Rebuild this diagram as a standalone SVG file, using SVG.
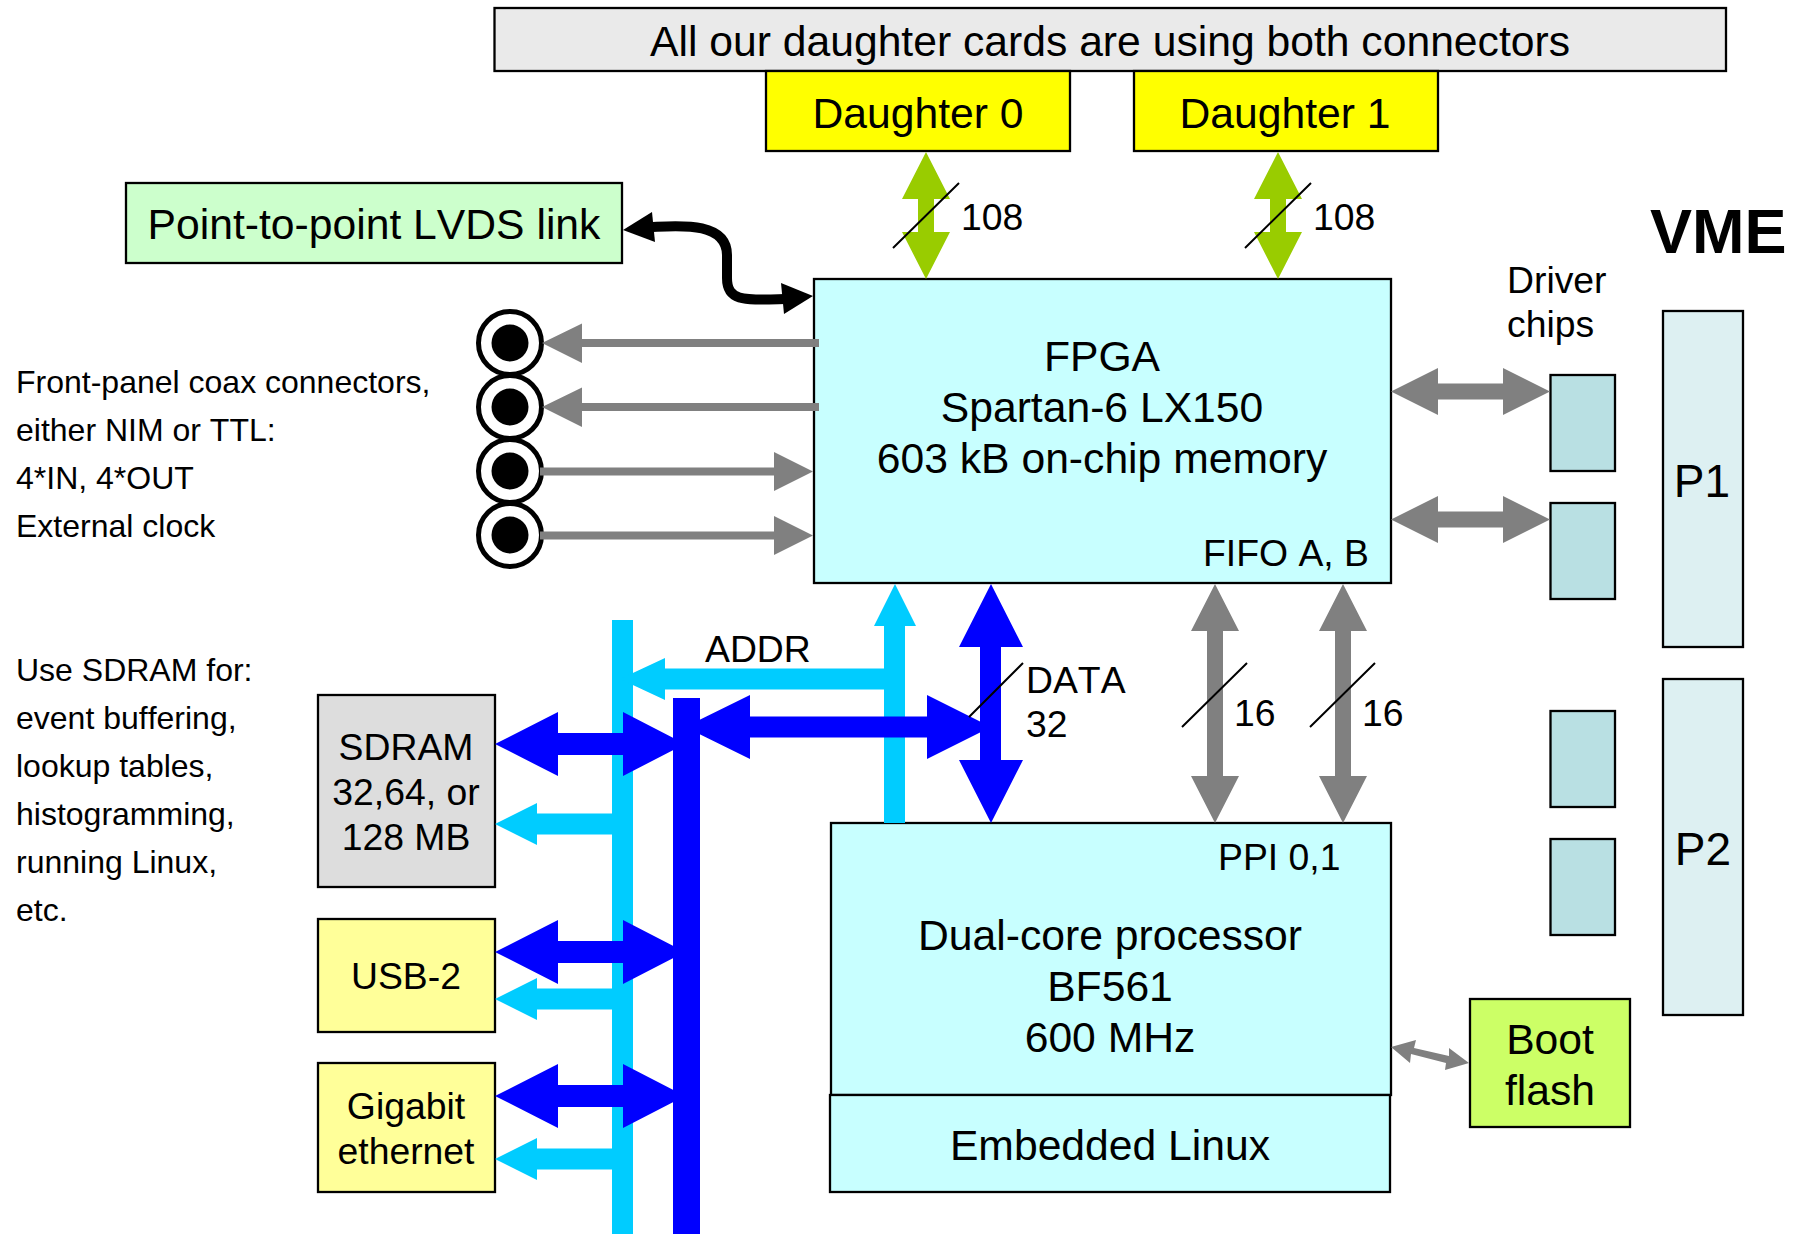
<svg xmlns="http://www.w3.org/2000/svg" width="1796" height="1234" viewBox="0 0 1796 1234">
<style>
text{font-family:"Liberation Sans",Arial,sans-serif;fill:#000;font-kerning:none}
.s32{font-size:32px}.s36{font-size:37.330px}.s42{font-size:42.670px}.s46{font-size:46px}
.m{text-anchor:middle}
.box{stroke:#000;stroke-width:2.300}
.cy{fill:#c8ffff}.chip{fill:#b9e0e3}.vme{fill:#ddf0f2}.yl{fill:#ffff00}.ly{fill:#ffff99}
.ring{fill:#fff;stroke:#000;stroke-width:5}
.gr{fill:#808080}.gn{fill:#99cc00}.bl{fill:#0000ff}.lb{fill:#00ccff}.bk{fill:#000}
.sl{stroke:#000;stroke-width:2;fill:none}
</style>
<g id="banner"><rect class="box" x="494.500" y="8" width="1231.500" height="63" fill="#eaeaea"/><text class="s42 m" x="1110" y="56">All our daughter cards are using both connectors</text></g>
<g id="daughter0"><rect class="box yl" x="766" y="71" width="304" height="80"/><text class="s42 m" x="918" y="128">Daughter 0</text></g>
<g id="daughter1"><rect class="box yl" x="1134" y="71" width="304" height="80"/><text class="s42 m" x="1285" y="128">Daughter 1</text></g>
<g id="lvds"><rect class="box" x="126" y="183" width="496" height="80" fill="#ccffcc"/><text class="s42 m" x="374" y="239">Point-to-point LVDS link</text></g>
<g id="fpga"><rect class="box cy" x="814" y="279" width="577" height="304"/>
<text class="s42 m" x="1102" y="371">FPGA</text><text class="s42 m" x="1102" y="422">Spartan-6 LX150</text><text class="s42 m" x="1102" y="473">603 kB on-chip memory</text>
<text class="s36" x="1203" y="566">FIFO A, B</text></g>
<g id="coax0"><circle class="ring" cx="510" cy="343" r="31.500"/><circle class="bk" cx="510" cy="343" r="18.500"/></g>
<g id="coax1"><circle class="ring" cx="510" cy="407" r="31.500"/><circle class="bk" cx="510" cy="407" r="18.500"/></g>
<g id="coax2"><circle class="ring" cx="510" cy="471" r="31.500"/><circle class="bk" cx="510" cy="471" r="18.500"/></g>
<g id="coax3"><circle class="ring" cx="510" cy="535" r="31.500"/><circle class="bk" cx="510" cy="535" r="18.500"/></g>
<g id="sdram"><rect class="box" x="318" y="695" width="177" height="192" fill="#dddddd"/><text class="s36 m" x="406" y="760">SDRAM</text><text class="s36 m" x="406" y="805">32,64, or</text><text class="s36 m" x="406" y="850">128 MB</text></g>
<g id="usb"><rect class="box ly" x="318" y="919" width="177" height="113"/><text class="s36 m" x="406" y="989">USB-2</text></g>
<g id="gigabit"><rect class="box ly" x="318" y="1063" width="177" height="129"/><text class="s36 m" x="406" y="1119">Gigabit</text><text class="s36 m" x="406" y="1164">ethernet</text></g>
<g id="processor"><rect class="box cy" x="831" y="823" width="560" height="272"/>
<text class="s36" x="1218" y="870">PPI 0,1</text>
<text class="s42 m" x="1110" y="950">Dual-core processor</text><text class="s42 m" x="1110" y="1001">BF561</text><text class="s42 m" x="1110" y="1052">600 MHz</text></g>
<g id="linux"><rect class="box cy" x="830" y="1095" width="560" height="97"/><text class="s42 m" x="1110" y="1160">Embedded Linux</text></g>
<g id="bootflash"><rect class="box" x="1470" y="999" width="160" height="128" fill="#ccff66"/><text class="s42 m" x="1550" y="1054">Boot</text><text class="s42 m" x="1550" y="1105">flash</text></g>
<g id="chip0"><rect class="box chip" x="1550.500" y="375" width="64.500" height="96"/></g>
<g id="chip1"><rect class="box chip" x="1550.500" y="503" width="64.500" height="96"/></g>
<g id="chip2"><rect class="box chip" x="1550.500" y="711" width="64.500" height="96"/></g>
<g id="chip3"><rect class="box chip" x="1550.500" y="839" width="64.500" height="96"/></g>
<g id="p1"><rect class="box vme" x="1663" y="311" width="80" height="336"/><text class="s46 m" x="1702" y="497">P1</text></g>
<g id="p2"><rect class="box vme" x="1663" y="679" width="80" height="336"/><text class="s46 m" x="1703" y="865">P2</text></g>
<g id="connectors">
<path d="M650 227C675 226 727 220 727 255L727 278C727 302 745 300 785 299" fill="none" stroke="#000" stroke-width="10"/>
<polygon class="bk" points="623,230 652,212 655,242"/><polygon class="bk" points="813,296 781,283 784,314"/>
<polygon class="gr" points="542,343 582,323.500 582,339 819,339 819,347 582,347 582,363"/>
<polygon class="gr" points="542,407 582,387.500 582,403 819,403 819,411 582,411 582,427"/>
<polygon class="gr" points="813,471.500 774,452 774,467.500 540,467.500 540,475.500 774,475.500 774,491"/>
<polygon class="gr" points="813,535.500 774,516 774,531.500 540,531.500 540,539.500 774,539.500 774,555"/>
<polygon class="gn" points="926,152 950,199 934,199 934,232 950,232 926,279 902,232 918,232 918,199 902,199"/>
<polygon class="gn" points="1278,152 1302,199 1286,199 1286,232 1302,232 1278,279 1254,232 1270,232 1270,199 1254,199"/>
<polygon class="gr" points="1391,391.500 1438,368 1438,383.500 1503,383.500 1503,368 1550,391.500 1503,415 1503,399.500 1438,399.500 1438,415"/>
<polygon class="gr" points="1391,519.500 1438,496 1438,511.500 1503,511.500 1503,496 1550,519.500 1503,543 1503,527.500 1438,527.500 1438,543"/>
<polygon class="gr" points="1215,584 1239,631 1223,631 1223,776 1239,776 1215,823 1191,776 1207,776 1207,631 1191,631"/>
<polygon class="gr" points="1343,584 1367,631 1351,631 1351,776 1367,776 1343,823 1319,776 1335,776 1335,631 1319,631"/>
<polygon class="gr" points="1391,1047 1416,1040 1414,1048 1449,1056 1449,1048 1469,1063 1445,1070 1446,1063 1411,1054 1410,1063"/>
<rect class="lb" x="612" y="620" width="21" height="614"/>
<polygon class="lb" points="895,584 916,626 905,626 905,823 884,823 884,626 874,626"/>
<polygon class="lb" points="620,679 665,658 665,668.500 905,668.500 905,689.500 665,689.500 665,700"/>
<polygon class="lb" points="495,824 537,803 537,813.500 633,813.500 633,834.500 537,834.500 537,845"/>
<polygon class="lb" points="495,999 537,978 537,988.500 633,988.500 633,1009.500 537,1009.500 537,1020"/>
<polygon class="lb" points="495,1159 537,1138 537,1148.500 633,1148.500 633,1169.500 537,1169.500 537,1180"/>
<rect class="bl" x="673" y="698" width="27" height="536"/>
<polygon class="bl" points="991,584 1023,647 1001,647 1001,760 1023,760 991,823 959,760 980,760 980,647 959,647"/>
<polygon class="bl" points="685,727 750,695 750,716.500 927,716.500 927,695 991,727 927,759 927,737.500 750,737.500 750,759"/>
<polygon class="bl" points="495,744 558,712 558,733 623,733 623,712 685,744 623,776 623,755 558,755 558,776"/>
<polygon class="bl" points="495,952 558,920 558,941 623,941 623,920 685,952 623,984 623,963 558,963 558,984"/>
<polygon class="bl" points="495,1096 558,1064 558,1085 623,1085 623,1064 685,1096 623,1128 623,1107 558,1107 558,1128"/>
<path class="sl" d="M893 248L959 183M1245 248L1311 183M1182 727L1247 663M1310 727L1375 663M969 717L1023 663"/>
</g>
<g id="labels">
<text class="s36" x="961" y="230">108</text><text class="s36" x="1313" y="230">108</text>
<text class="s36" x="705" y="662">ADDR</text>
<text class="s36" x="1026" y="693">DATA</text><text class="s36" x="1026" y="737">32</text>
<text class="s36" x="1234" y="726">16</text><text class="s36" x="1362" y="726">16</text>
<text class="s36" x="1507" y="293">Driver</text><text class="s36" x="1507" y="337">chips</text>
<text x="1650" y="253" font-size="63" font-weight="700">VME</text>
<text class="s32"><tspan x="16" y="393">Front-panel coax connectors,</tspan><tspan x="16" y="441">either NIM or TTL:</tspan><tspan x="16" y="489">4*IN, 4*OUT</tspan><tspan x="16" y="537">External clock</tspan></text>
<text class="s32"><tspan x="16" y="681">Use SDRAM for:</tspan><tspan x="16" y="729">event buffering,</tspan><tspan x="16" y="777">lookup tables,</tspan><tspan x="16" y="825">histogramming,</tspan><tspan x="16" y="873">running Linux,</tspan><tspan x="16" y="921">etc.</tspan></text>
</g>
</svg>
